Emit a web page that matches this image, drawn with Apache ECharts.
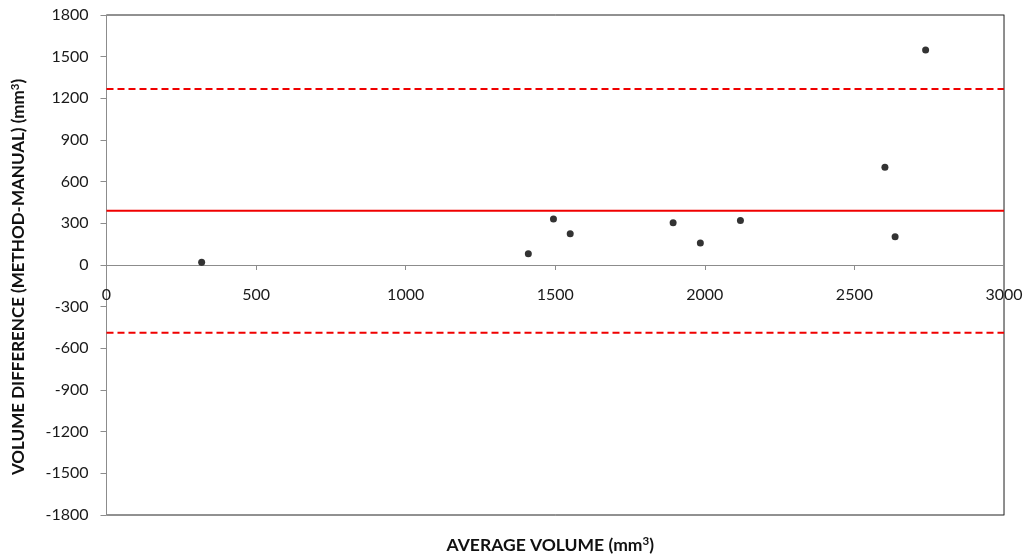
<!DOCTYPE html>
<html>
<head>
<meta charset="utf-8">
<script src="https://cdn.jsdelivr.net/npm/echarts@6/dist/echarts.min.js"></script>
<style>
  html, body { margin: 0; padding: 0; background: #fff; }
  #chart { width: 1028px; height: 556px; }
</style>
</head>
<body>
<div id="chart"></div>
<script>
// Bland-Altman: average volume vs. difference (method - manual)
const avgVolume = [318, 1410, 1494, 1550, 1894, 1985, 2119, 2602, 2636, 2738];
const volDiff   = [20, 81, 331, 225, 305, 158, 321, 703, 204, 1548];
const meanDiff = 390;
const upperLoA = 1267;
const lowerLoA = -487;

const xMin = 0, xMax = 3000, xStep = 500;
const yMin = -1800, yMax = 1800, yStep = 300;

const xTitle = 'AVERAGE VOLUME (mm{sup|3})';
const yTitle = 'VOLUME DIFFERENCE (METHOD-MANUAL) (mm{sup|3})';

const font = 'Lato, "Open Sans", sans-serif';
const axisGray = '#8c8c8c';
const plainNum = v => String(v);
const supRich = {
  sup: { fontSize: 11.5, fontWeight: 'bold', fontFamily: font, color: '#111', verticalAlign: 'top', padding: [0, 0, 7, 0] }
};

// plot frame in pixels
const gridTop = 15, gridBottom = 41, chartHeight = 556;
const plotHeight = chartHeight - gridTop - gridBottom;
// shift of the x axis from the bottom edge up to the y = 0 line
const zeroOffset = -plotHeight * (0 - yMin) / (yMax - yMin);

const chart = echarts.init(document.getElementById('chart'));
chart.setOption({
  animation: false,
  backgroundColor: '#fff',
  grid: {
    left: 106.5, right: 24, top: gridTop, bottom: gridBottom,
    outerBoundsMode: 'none', containLabel: false,
    show: true, borderColor: '#222', borderWidth: 1, backgroundColor: 'transparent'
  },
  xAxis: [{
    type: 'value', min: xMin, max: xMax, interval: xStep,
    position: 'bottom', offset: zeroOffset,
    axisLine: { show: true, onZero: false, lineStyle: { color: axisGray, width: 1 } },
    axisTick: { show: true, inside: false, length: 5, lineStyle: { color: axisGray } },
    axisLabel: { color: '#1a1a1a', fontSize: 16, fontFamily: font, margin: 22, formatter: plainNum },
    splitLine: { show: false }
  }],
  yAxis: [{
    type: 'value', min: yMin, max: yMax, interval: yStep,
    axisLine: { show: true, onZero: false, lineStyle: { color: axisGray, width: 1 } },
    axisTick: { show: true, length: 6, lineStyle: { color: axisGray } },
    axisLabel: { color: '#1a1a1a', fontSize: 16, fontFamily: font, margin: 18, formatter: plainNum },
    splitLine: { show: false }
  }, {
    type: 'value', min: yMin, max: yMax, interval: yStep, position: 'right',
    axisLine: { show: true, onZero: false, lineStyle: { color: axisGray, width: 1 } },
    axisTick: { show: false }, axisLabel: { show: false }, splitLine: { show: false }
  }],
  series: [{
    type: 'line', name: 'Mean', symbol: 'none', silent: true,
    data: [[xMin, meanDiff], [xMax, meanDiff]],
    lineStyle: { color: '#f00000', width: 2 }
  }, {
    type: 'line', name: 'Upper limit', symbol: 'none', silent: true,
    data: [[xMin, upperLoA], [xMax, upperLoA]],
    lineStyle: { color: '#f00000', width: 2, type: [7, 4] }
  }, {
    type: 'line', name: 'Lower limit', symbol: 'none', silent: true,
    data: [[xMin, lowerLoA], [xMax, lowerLoA]],
    lineStyle: { color: '#f00000', width: 2, type: [7, 4] }
  }, {
    type: 'scatter', name: 'Cases', symbol: 'circle', symbolSize: 7,
    data: avgVolume.map((v, i) => [v, volDiff[i]]),
    itemStyle: { color: '#000' }
  }]
});

// axis titles: x title below the frame, y title rotated along the left edge
const gridRect = chart.getModel().getComponent('grid').coordinateSystem.getRect();
chart.setOption({
  graphic: [{
    type: 'text', x: gridRect.x + gridRect.width / 2 - 5, y: 545,
    style: {
      text: xTitle, fill: '#111', font: 'bold 17.5px ' + font,
      align: 'center', verticalAlign: 'middle', rich: supRich
    }
  }, {
    type: 'text', x: 19, y: gridRect.y + gridRect.height / 2 + 12, rotation: Math.PI / 2,
    style: {
      text: yTitle, fill: '#111', font: 'bold 17px ' + font,
      align: 'center', verticalAlign: 'middle', rich: supRich
    }
  }]
});
</script>
</body>
</html>
